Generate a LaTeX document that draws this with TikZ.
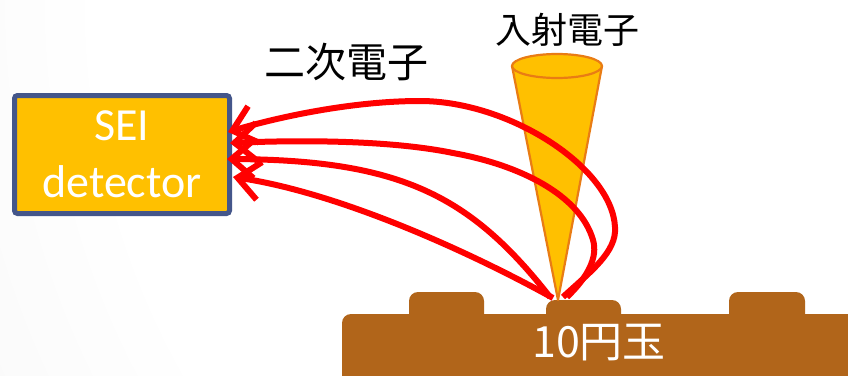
\documentclass[tikz,border=0pt]{standalone}
\usepackage{fontspec}
\setmainfont{Carlito}
\newfontfamily\jp{Noto Sans CJK JP}
\usetikzlibrary{arrows.meta}

\definecolor{panel}{HTML}{FFC000}
\definecolor{panelrim}{HTML}{44568A}
\definecolor{conerim}{HTML}{E97C14}
\definecolor{coin}{HTML}{B1651A}
\definecolor{ray}{HTML}{FF0000}

\pgfdeclareradialshading{bgglow}{\pgfpoint{0bp}{0bp}}{%
  color(0bp)=(white); color(20bp)=(white); color(50bp)=(black!11)}

\tikzset{
  detbox/.style={draw=panelrim, line width=5pt, fill=panel, rounded corners=3pt,
    minimum width=215pt, minimum height=118pt, inner sep=0pt,
    text=white, align=center, font=\fontsize{46}{57}\selectfont},
  jplabel/.style={font=\jp\fontsize{#1}{#1}\selectfont, text=black, inner sep=0pt},
  coinpart/.style={fill=coin, rounded corners=9pt},
  secondary/.style={draw=ray, line width=6pt,
    -{Straight Barb[length=22pt,width=38pt]}},
  beam/.style={fill=panel, draw=conerim, line width=2.2pt, line join=round},
}

\begin{document}
\begin{tikzpicture}[x=1pt, y=-1pt]
  \useasboundingbox (0,0) rectangle (848,375);

  % background glow
  \begin{scope}
    \clip (0,0) rectangle (848,375);
    \shade[shading=bgglow] (848,0) circle (930pt);
  \end{scope}

  % coin with raised relief
  \fill[coinpart] (342,400) -- (342,314) -- (870,314) -- (870,400) -- cycle;
  \fill[coinpart] (409,330) rectangle (484,292);
  \fill[coinpart] (546,330) rectangle (621,300);
  \fill[coinpart] (729,330) rectangle (805,292);
  \node[font=\jp\fontsize{43}{43}\selectfont, text=white, inner sep=0pt]
    (coinlabel) at (599,343) {10円玉};

  % incident beam cone
  \coordinate (tip) at (558,300);
  \filldraw[beam] (512,66) -- (tip) -- (602,66) -- cycle;
  \filldraw[beam] (557,66) ellipse [x radius=45pt, y radius=12pt];
  \node[jplabel=36] (beamlabel) at (567,30) {入射電子};

  % detector
  \node[detbox] (det) at (122,154.5) {SEI\\detector};
  \node[jplabel=41] (selabel) at (346,62) {二次電子};

  % emission points and detector targets
  \coordinate (s1) at (563,297);
  \coordinate (s2) at (567,297);
  \coordinate (s3) at (550,297);
  \coordinate (s4) at (553,298);
  \coordinate (t1) at (228,132);
  \coordinate (t2) at (230,143);
  \coordinate (t3) at (227,159);
  \coordinate (t4) at (233,177);

  % secondary electron trajectories
  \draw[secondary] (s1) .. controls (590,272) and (617,252) .. (615,227)
    .. controls (612,168) and (510,101) .. (420,101)
    .. controls (350,101) and (275,118) .. (t1);
  \draw[secondary] (s2) .. controls (588,277) and (598,257) .. (593,240)
    .. controls (580,195) and (520,165) .. (453,153)
    .. controls (390,140) and (300,140) .. (t2);
  \draw[secondary] (s3) .. controls (470,195) and (400,160) .. (t3);
  \draw[secondary] (s4) .. controls (470,252) and (340,193) .. (t4);
\end{tikzpicture}
\end{document}
